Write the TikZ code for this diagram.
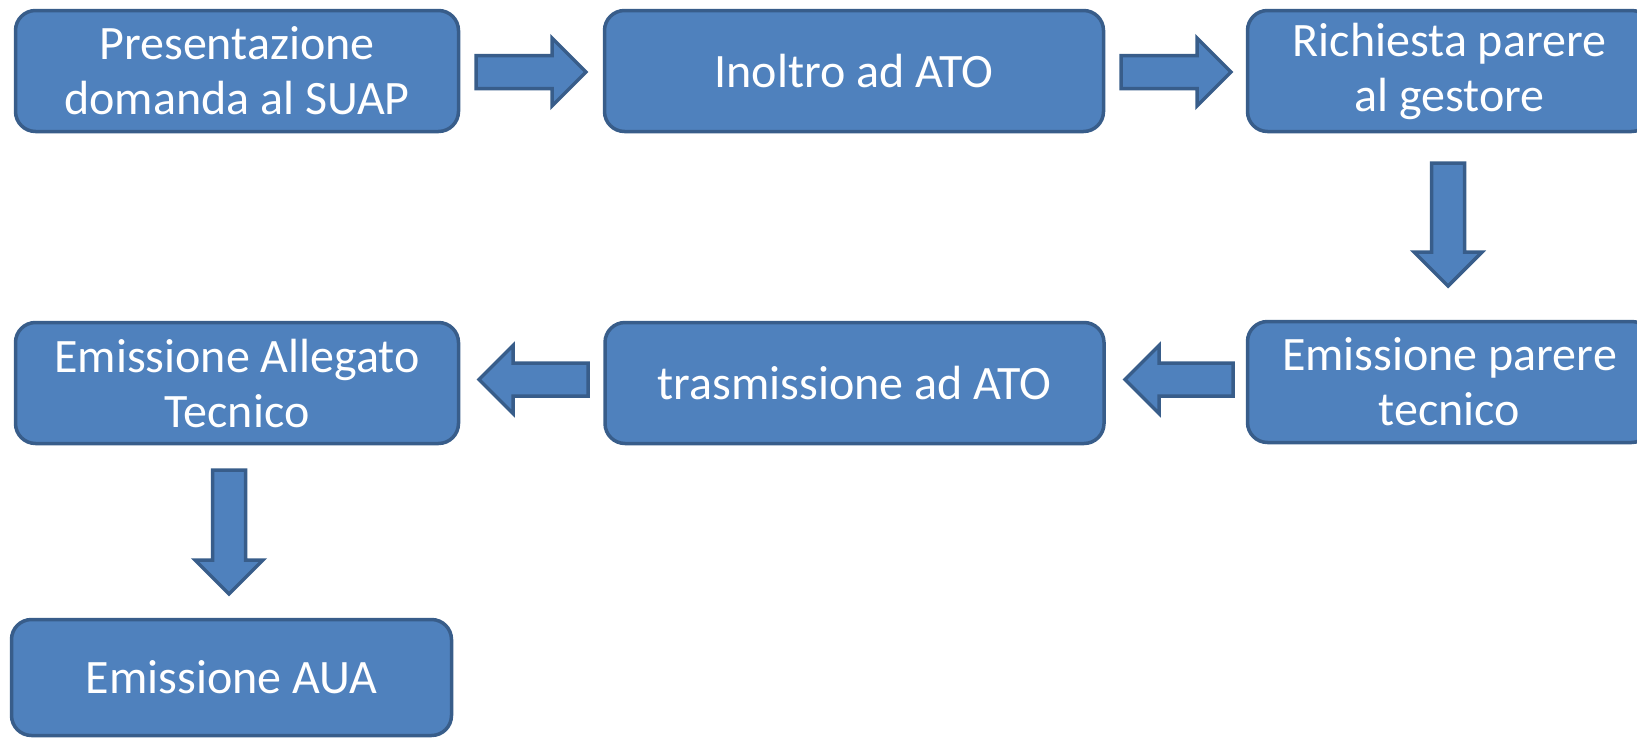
\documentclass[tikz,border=0pt]{standalone}
\usepackage{fontspec}
\setmainfont{Carlito}
\usetikzlibrary{calc}

\definecolor{boxfill}{HTML}{4F81BD}
\definecolor{boxline}{HTML}{385D8A}

\tikzset{
  stepbox/.style={draw=boxline, fill=boxfill, line width=3.5pt,
    rounded corners=20pt, text=white, align=center, inner sep=0pt,
    outer sep=0pt, font=\fontsize{48}{55}\selectfont},
  arrowbody/.style={draw=boxline, fill=boxfill, line width=3.5pt, line join=miter}
}

% block arrow: #1 tail coordinate, #2 direction angle, #3 length
\newcommand\blockarrow[3]{%
  \draw[arrowbody, shift={(#1)}, rotate=#2]
    (0,-16.5) -- ({#3-36},-16.5) -- ({#3-36},-34) -- ({#3-2},0)
    -- ({#3-36},34) -- ({#3-36},16.5) -- (0,16.5) -- cycle;}

\begin{document}
\begin{tikzpicture}[x=1pt, y=1pt]
  \useasboundingbox (0,0) rectangle (1637,-739);

  % process steps
  \node[stepbox, minimum width=443, minimum height=121] (p1) at (237,-71)
    {Presentazione\\domanda al SUAP};
  \node[stepbox, minimum width=499, minimum height=121] (p2) at (854,-71)
    {Inoltro ad ATO};
  \node[stepbox, minimum width=404, minimum height=121] (p3) at (1449.5,-71)
    {Richiesta parere\\al gestore};
  \node[stepbox, minimum width=404, minimum height=121] (p6) at (1449.5,-382)
    {Emissione parere\\tecnico};
  \node[stepbox, minimum width=499, minimum height=121] (p5) at (854.5,-383)
    {trasmissione ad ATO};
  \node[stepbox, minimum width=443, minimum height=121] (p4) at (237,-383)
    {Emissione Allegato\\Tecnico};
  \node[stepbox, minimum width=440, minimum height=116] (p7) at (231.5,-677.5)
    {Emissione AUA};

  % arrow tails, placed from the boxes they leave
  \coordinate (t12) at ($(p1.east)+(17.5,-1)$);
  \coordinate (t23) at ($(p2.east)+(17.5,-1)$);
  \coordinate (t36) at ($(p3.south)+(-1.5,-31.5)$);
  \coordinate (t65) at ($(p6.west)+(-14.5,2.5)$);
  \coordinate (t54) at ($(p5.west)+(-17,3.5)$);
  \coordinate (t47) at ($(p4.south)+(-8,-26.5)$);

  \blockarrow{t12}{0}{112}
  \blockarrow{t23}{0}{112}
  \blockarrow{t36}{-90}{125}
  \blockarrow{t65}{180}{110}
  \blockarrow{t54}{180}{111}
  \blockarrow{t47}{-90}{126}
\end{tikzpicture}
\end{document}
